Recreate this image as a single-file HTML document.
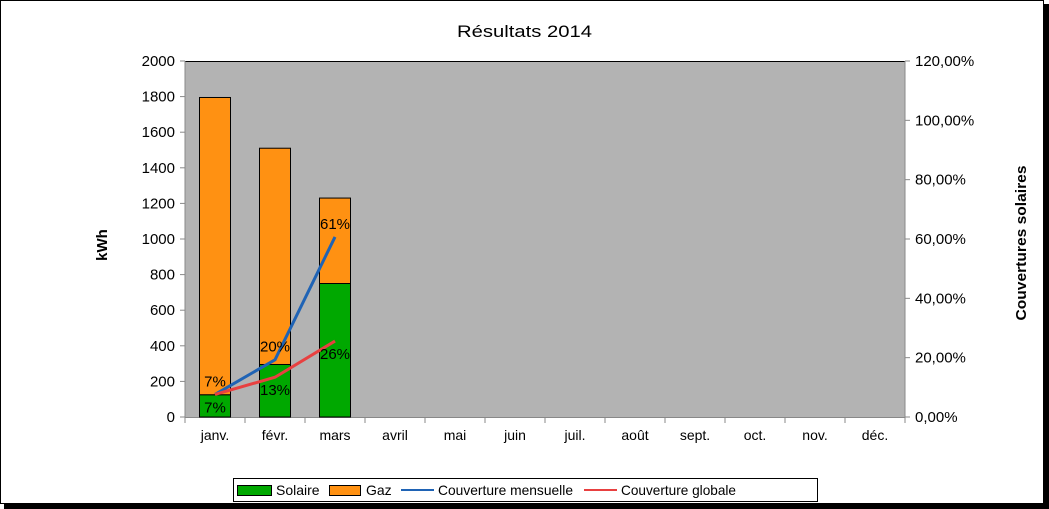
<!DOCTYPE html>
<html><head><meta charset="utf-8"><style>
body{margin:0;background:#fff;}
svg{display:block;font-family:"Liberation Sans",Arial,sans-serif;}
</style></head><body>
<svg id="chart" width="1049" height="509">
<rect x="0.5" y="0.5" width="1043" height="503" fill="#fff" stroke="#000"/>
<rect x="4" y="504" width="1045" height="5" fill="#000"/>
<rect x="1044" y="4" width="5" height="505" fill="#000"/>
<text x="457" y="37" font-size="17" textLength="135" lengthAdjust="spacingAndGlyphs">Résultats 2014</text>
<rect x="185" y="61" width="720" height="356" fill="#b3b3b3"/>
<line x1="185" y1="61.5" x2="905" y2="61.5" stroke="#000"/>
<g id="axes"></g><g id="bars"></g><g id="lines"></g><g id="labels"></g>
<text transform="translate(107,245) rotate(-90)" font-size="15" font-weight="bold" text-anchor="middle">kWh</text>
<text transform="translate(1026,243) rotate(-90)" font-size="15" font-weight="bold" text-anchor="middle" textLength="155" lengthAdjust="spacingAndGlyphs">Couvertures solaires</text>
<g>
<rect x="233.5" y="478.5" width="584" height="23" fill="#fff" stroke="#000"/>
<rect x="237.5" y="485.5" width="34" height="10" fill="#00a800" stroke="#000"/>
<text x="276" y="495" font-size="14">Solaire</text>
<rect x="329.5" y="485.5" width="31" height="10" fill="#ff9112" stroke="#000"/>
<text x="366" y="495" font-size="14">Gaz</text>
<line x1="401" y1="490" x2="434" y2="490" stroke="#1f63b5" stroke-width="2"/>
<text x="438" y="495" font-size="14" textLength="135" lengthAdjust="spacingAndGlyphs">Couverture mensuelle</text>
<line x1="584" y1="490" x2="617" y2="490" stroke="#e84040" stroke-width="2"/>
<text x="621" y="495" font-size="14" textLength="115" lengthAdjust="spacingAndGlyphs">Couverture globale</text>
</g>
</svg>
<script>
const categories=["janv.","févr.","mars","avril","mai","juin","juil.","août","sept.","oct.","nov.","déc."];
const solaire=[125,295,750];
const gaz=[1670,1215,480];
const mensuelle=[7.6,19.3,60.7];
const globale=[7.6,13.4,25.6];
const mensuelleLabels=["7%","20%","61%"];
const globaleLabels=["7%","13%","26%"];
const leftTicks=[0,200,400,600,800,1000,1200,1400,1600,1800,2000];
const rightTicks=["0,00%","20,00%","40,00%","60,00%","80,00%","100,00%","120,00%"];
const NS="http://www.w3.org/2000/svg";
const X0=185,W=720,Y0=417,H=356;
const cw=W/categories.length;
const y=v=>Y0-v/2000*H;
const y2=p=>Y0-p/120*H;
const cx=i=>X0+cw*(i+0.5);
function mk(tag,attrs,parent,txt){const e=document.createElementNS(NS,tag);for(const k in attrs)e.setAttribute(k,attrs[k]);if(txt!==undefined)e.textContent=txt;document.getElementById(parent).appendChild(e);return e;}
mk('line',{x1:X0,y1:61,x2:X0,y2:Y0,stroke:'#888'},'axes');
mk('line',{x1:X0,y1:Y0+0.5,x2:X0+W,y2:Y0+0.5,stroke:'#888'},'axes');
mk('line',{x1:X0+W,y1:61,x2:X0+W,y2:Y0,stroke:'#888'},'axes');
leftTicks.forEach(t=>{const yy=y(t);
 mk('line',{x1:X0-5,y1:yy,x2:X0,y2:yy,stroke:'#888'},'axes');
 const e=mk('text',{x:X0-10,y:yy+5,'font-size':15,'text-anchor':'end'},'axes',String(t));
 
 });
rightTicks.forEach((t,i)=>{const yy=y2(i*20);
 mk('line',{x1:X0+W,y1:yy,x2:X0+W+5,y2:yy,stroke:'#888'},'axes');
 const e=mk('text',{x:X0+W+10,y:yy+5,'font-size':15},'axes',t);
 
 });
categories.forEach((c,i)=>{
 const xb=X0+cw*(i+1);
 mk('line',{x1:xb,y1:Y0,x2:xb,y2:Y0+6,stroke:'#888'},'axes');
 const e=mk('text',{x:cx(i),y:Y0+23,'font-size':14,'text-anchor':'middle'},'axes',c);
 
 });
mk('line',{x1:X0,y1:Y0,x2:X0,y2:Y0+6,stroke:'#888'},'axes');
solaire.forEach((s,i)=>{
 const bx=cx(i)-15.5;
 const r1=mk('rect',{x:bx,y:y(s),width:31,height:Y0-y(s),fill:'#00a800',stroke:'#000'},'bars');
 
 
 const g=gaz[i];
 const r2=mk('rect',{x:bx,y:y(s+g),width:31,height:y(s)-y(s+g),fill:'#ff9112',stroke:'#000'},'bars');
 
 });
const pm=mensuelle.map((v,i)=>cx(i)+','+y2(v)).join(' ');
const l1=mk('polyline',{points:pm,fill:'none',stroke:'#1f63b5','stroke-width':3},'lines');


const pg=globale.map((v,i)=>cx(i)+','+y2(v)).join(' ');
const l2=mk('polyline',{points:pg,fill:'none',stroke:'#e84040','stroke-width':3},'lines');


mensuelle.forEach((v,i)=>{const e=mk('text',{x:cx(i),y:y2(v)-8,'font-size':15,'text-anchor':'middle'},'labels',mensuelleLabels[i]);
 
 });
globale.forEach((v,i)=>{const e=mk('text',{x:cx(i),y:y2(v)+18,'font-size':15,'text-anchor':'middle'},'labels',globaleLabels[i]);
 
 });
</script>
</body></html>
